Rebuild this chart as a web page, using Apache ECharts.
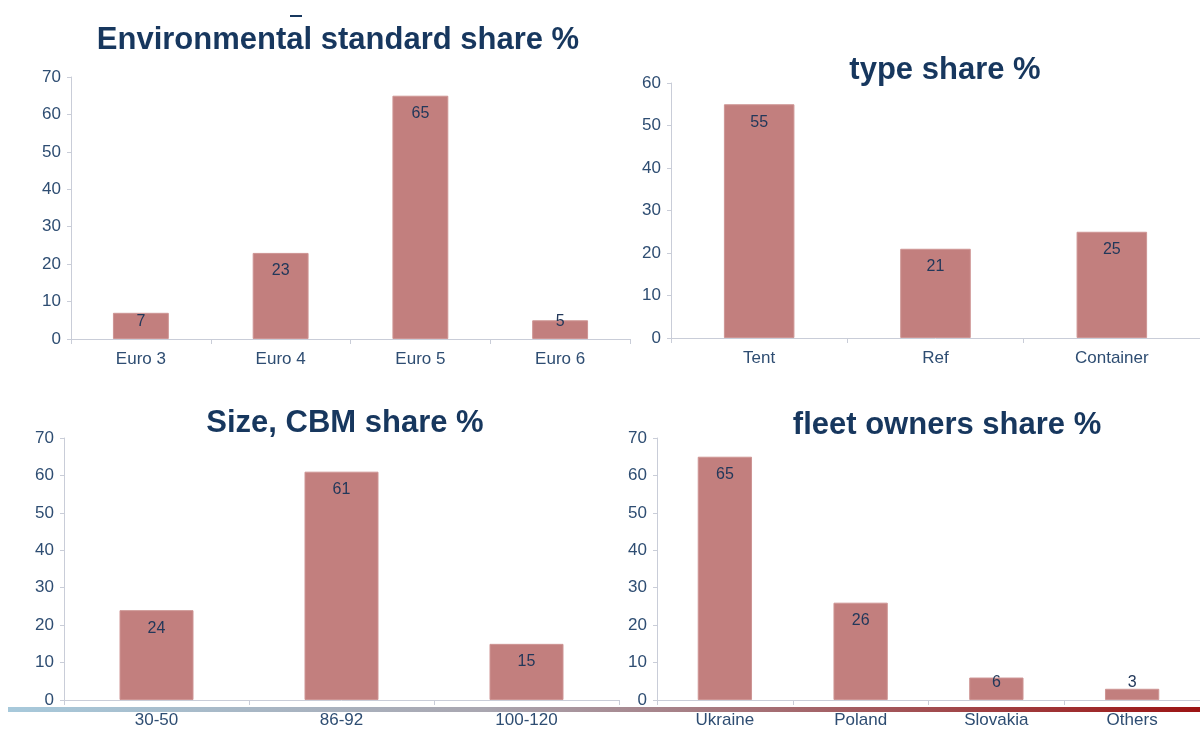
<!DOCTYPE html>
<html>
<head>
<meta charset="utf-8">
<script src="https://cdn.jsdelivr.net/npm/echarts@6/dist/echarts.min.js"></script>
<style>
  html, body { margin: 0; padding: 0; background: #fff; }
  #chart { width: 1200px; height: 729px; }
</style>
</head>
<body>
<div id="chart"></div>
<script>
  // data
  const envCats = ['Euro 3', 'Euro 4', 'Euro 5', 'Euro 6'];
  const envVals = [7, 23, 65, 5];
  const typeCats = ['Tent', 'Ref', 'Container'];
  const typeVals = [55, 21, 25];
  const sizeCats = ['30-50', '86-92', '100-120'];
  const sizeVals = [24, 61, 15];
  const ownerCats = ['Ukraine', 'Poland', 'Slovakia', 'Others'];
  const ownerVals = [65, 26, 6, 3];

  const titles = [
    'Environmental standard share %',
    'type share %',
    'Size, CBM share %',
    'fleet owners share %'
  ];

  const FONT = 'Liberation Sans, Arial, sans-serif';
  const NAVY = '#17375E';
  const AXIS = '#C9CDD8';
  const BAR = '#C27F7E';

  const grids = [
    { left: 71, right: 570, top: 77, bottom: 390 },
    { left: 671, right: -29, top: 83, bottom: 391 },
    { left: 64, right: 581, top: 438, bottom: 28 },
    { left: 657, right: -15, top: 438, bottom: 28 }
  ];
  const cats = [envCats, typeCats, sizeCats, ownerCats];
  const vals = [envVals, typeVals, sizeVals, ownerVals];
  const maxes = [70, 60, 70, 70];

  const xAxes = cats.map((c, i) => ({
    type: 'category',
    gridIndex: i,
    data: c,
    axisLine: { lineStyle: { color: AXIS, width: 1 } },
    axisTick: { show: true, length: 5, lineStyle: { color: AXIS } },
    axisLabel: { color: '#2E4D72', fontSize: 17, fontFamily: FONT, margin: 12 }
  }));

  const yAxes = maxes.map((m, i) => ({
    type: 'value',
    gridIndex: i,
    min: 0,
    max: m,
    interval: 10,
    axisLine: { show: true, lineStyle: { color: AXIS, width: 1 } },
    axisTick: { show: true, length: 4, lineStyle: { color: AXIS } },
    splitLine: { show: false },
    axisLabel: { color: '#2E4D72', fontSize: 17, fontFamily: FONT, margin: 10 }
  }));

  const series = vals.map((v, i) => ({
    type: 'bar',
    xAxisIndex: i,
    yAxisIndex: i,
    barWidth: '40%',
    itemStyle: { color: BAR, borderColor: '#CE9594', borderWidth: 1 },
    data: v.map(val => ({
      value: val,
      label: val < 10
        ? { position: 'insideBottom', distance: 9 }
        : { position: 'insideTop', distance: 10 }
    })),
    label: {
      show: true,
      color: '#22385A',
      fontSize: 16,
      fontFamily: FONT
    }
  }));

  const titlePos = [[338, 40], [945, 70], [345, 423], [947, 425]];
  const graphics = titles.map((t, i) => ({
    type: 'text',
    x: titlePos[i][0],
    y: titlePos[i][1],
    style: {
      text: t,
      fill: NAVY,
      font: 'bold 31px ' + FONT,
      textAlign: 'center',
      textVerticalAlign: 'middle'
    }
  }));
  // bottom decorative band
  graphics.push({
    type: 'rect',
    shape: { x: 8, y: 707, width: 1192, height: 5 },
    style: {
      fill: new echarts.graphic.LinearGradient(0, 0, 1, 0, [
        { offset: 0, color: '#A7C9DB' },
        { offset: 0.4, color: '#A9A6B0' },
        { offset: 0.6, color: '#A6787E' },
        { offset: 1, color: '#9C1414' }
      ])
    },
    z: 10
  });
  // small dash at top
  graphics.push({
    type: 'rect',
    shape: { x: 290, y: 15, width: 12, height: 2 },
    style: { fill: NAVY }
  });

  const myChart = echarts.init(document.getElementById('chart'));
  myChart.setOption({
    animation: false,
    grid: grids,
    xAxis: xAxes,
    yAxis: yAxes,
    series: series,
    graphic: graphics
  });
</script>
</body>
</html>
